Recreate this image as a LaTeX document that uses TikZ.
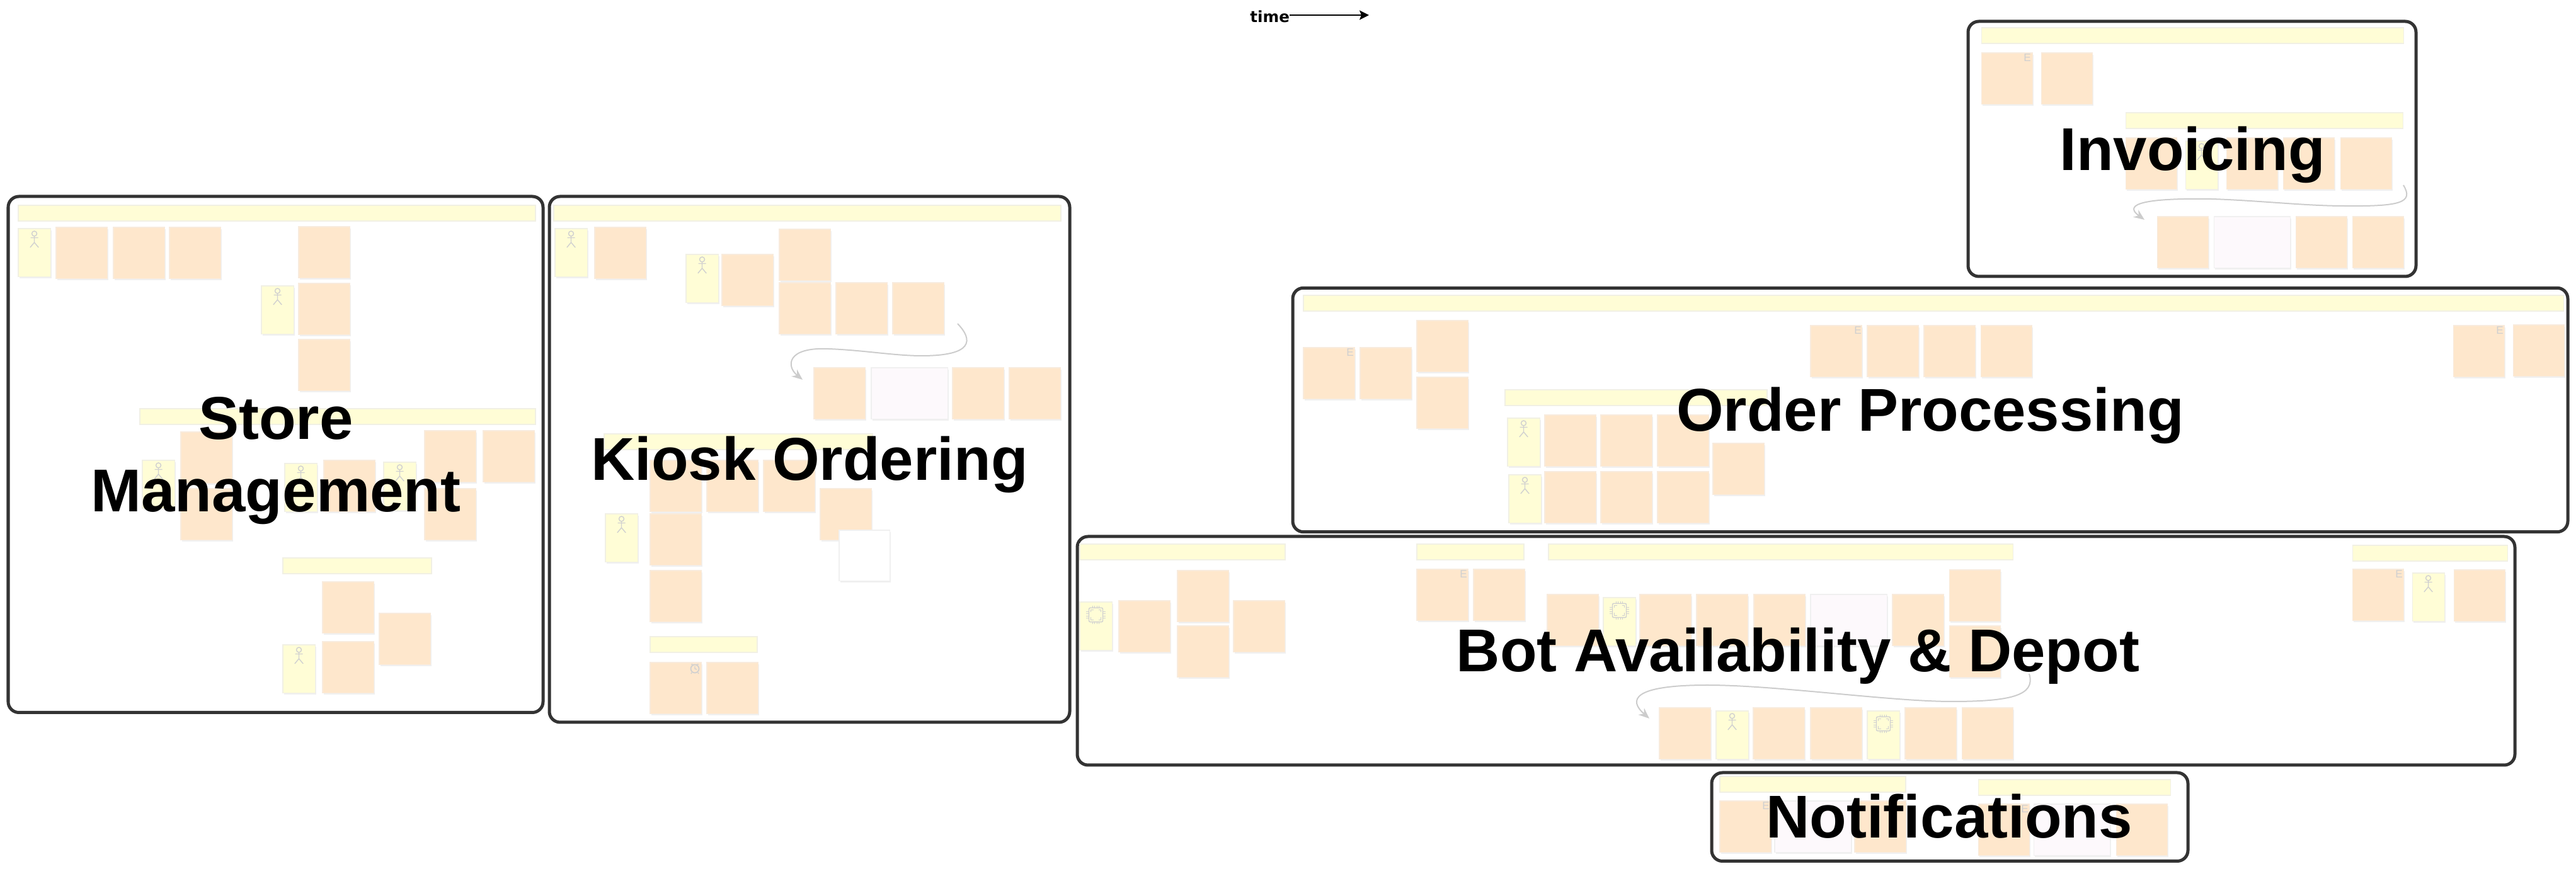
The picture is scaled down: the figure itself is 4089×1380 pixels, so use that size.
\documentclass[tikz,border=0pt]{standalone}
\usepackage{fontspec}
\setmainfont{Liberation Sans}
\newfontfamily\timefont{DejaVu Sans}
\usetikzlibrary{arrows.meta,shadows}
\definecolor{eventfill}{HTML}{FEE7CC}
\definecolor{eventedge}{HTML}{F8EBDD}
\definecolor{notefill}{HTML}{FFFDD6}
\definecolor{policyfill}{HTML}{FDF9FC}
\definecolor{noteedge}{HTML}{F1F0E4}
\definecolor{shadowgrey}{HTML}{F0F0F0}
\definecolor{icongrey}{HTML}{D0D0D0}
\definecolor{framegrey}{HTML}{333333}
\definecolor{flowgrey}{HTML}{CCCCCC}
\tikzset{
  stick/.pic={
    \draw [icongrey, line width=0.4pt] (0,8) circle [radius=4];
    \draw [icongrey, line width=0.4pt] (0,12) -- (0,22) (-6,14.5) -- (6,14.5) (-6.7,30) -- (0,22) -- (6.7,30);
  },
  chip/.pic={
    \draw [icongrey, line width=0.4pt, rounded corners=0.02cm] (-11,9.3) rectangle (11,31.7);
    \draw [icongrey, line width=0.3pt] (-8,16.5) -- (-8,12.5) -- (-4,12.5) (4,12.5) -- (8,12.5) -- (8,16.5) (8,24.5) -- (8,28.5) -- (4,28.5) (-4,28.5) -- (-8,28.5) -- (-8,24.5);
    \foreach \p in {-5,-1.7,1.7,5}
    {
      \draw [icongrey, line width=0.3pt] (\p,6) -- (\p,9.3) (\p,31.7) -- (\p,35);
      \draw [icongrey, line width=0.3pt] (-15.5,20.5+\p) -- (-11,20.5+\p) (11,20.5+\p) -- (15.5,20.5+\p);
    }
  },
  clock/.pic={
    \draw [icongrey, line width=0.5pt] (0,0) circle [radius=6.5];
    \draw [icongrey, line width=0.4pt] (0,-4) -- (0,0) -- (3,1) (-6,-7) -- (-3,-7) (3,-7) -- (6,-7) (-5,6) -- (-6,8) (5,6) -- (6,8);
  }
}
\begin{document}
\begin{tikzpicture}[x=0.01cm,y=-0.01cm]
\tikzstyle{sticky} = [anchor=north west, inner sep=0, outer sep=0, line width=0.3pt, general shadow={fill=shadowgrey, shadow xshift=0.023cm, shadow yshift=-0.03cm}]
\tikzstyle{event} = [sticky, fill=eventfill, draw=eventedge, minimum width=0.81cm, minimum height=0.81cm]
\tikzstyle{policy} = [sticky, fill=policyfill, draw=shadowgrey, minimum width=1.21cm, minimum height=0.81cm]
\tikzstyle{blank} = [sticky, fill=white, draw=shadowgrey, minimum width=0.80cm, minimum height=0.80cm]
\tikzstyle{actor} = [sticky, fill=notefill, draw=noteedge, minimum width=0.51cm, minimum height=0.76cm]
\tikzstyle{header} = [anchor=north west, inner sep=0, outer sep=0, line width=0.3pt, fill=notefill, draw=noteedge, minimum height=0.25cm]
\tikzstyle{frame} = [anchor=north west, inner sep=0, outer sep=0, draw=framegrey, line width=0.05cm, rounded corners=0.17cm]
\tikzstyle{title} = [inner sep=0, outer sep=0, font=\bfseries\fontsize{27.3}{32.7}\selectfont]
\tikzstyle{flow} = [flowgrey, line width=0.02cm, -{Stealth[length=0.17cm,width=0.14cm]}]
\tikzstyle{letter} = [inner sep=0, outer sep=0, text=icongrey, font=\fontsize{4.9}{5}\selectfont]
\useasboundingbox (0,0) rectangle (4089,1380);
    \foreach \n/\x/\y/\w/\h in {store/13/312/849/819.5,kiosk/872/312/826/835,invoicing/3124/34/711/405,order/2052/457.3/2024/387.4,bot/1710/852/2282/363,notify/2717/1227/756/140.5}
    {
    	\node [frame, minimum width=\w*0.01cm, minimum height=\h*0.01cm] (\n) at (\x,\y) {};
    }
    \foreach \x/\y/\w in {29/326/821,222/649/628,449/886/236,879/326/805,959/689/426,1032/1011/170,3145/44/670,3374/179/440,2069/469/2000,2389/619/416,1714/864/326,2249/864/170,2458/864/737,3734/866/246,2730/1233/295,3140/1238/305}
    {
    	\node [header, minimum width=\w*0.01cm] (h\x-\y) at (\x,\y) {};
    }
    \foreach \x/\y in {89/361,180/361,269/361,474/360,474/450,474/539,287/686,287/776,514/731,674/684,674/776,767/684,512/924,512/1019,602/974,
    	944/361,1146/404,1237/364,1237/449,1327/449,1417/449,1292/584,1512/584,1602/584,1032/731,1122/731,1212/731,1302/776,1032/816,1032/906,1032/1052,1122/1052,
    	3145/84,3240/84,3374/219,3534/219,3624/219,3715/219,3424/344,3644/344,3734/344,
    	2069/552,2159/552,2249/509,2249/599,2874/517,2964/517,3054/517,3144/517,3894/517,3989/516,2452/659,2541/659,2631/659,2452/749,2541/749,2631/749,2719/704,
    	1776/954,1869/906,1869/994,1958/954,2249/904,2339/904,2456/944,2603/944,2693/944,2784/944,3004/944,3094/905,3094/994,2634/1124,2783/1124,2874/1124,3024/1124,3114/1124,3734/904,3895/905,
    	2730/1272,2944/1272,3140/1277,3359/1277}
    {
    	\node [event] (ev\x-\y) at (\x,\y) {};
    }
    \foreach \x/\y in {1383/584,3514/344,2874/944,2817/1272,3228/1277}
    {
    	\node [policy] (po\x-\y) at (\x,\y) {};
    }
    \foreach \x/\y in {29/363,415/454,226/731,452/736,609/734,449/1024,881/363,1089/404,961/816,3469/224,2393/664,2395/754,2724/1129,3829/910}
    {
    	\node [actor] (ac\x-\y) at (\x,\y) {};
    	\pic at (ac\x-\y.north) {stick};
    }
    \foreach \x/\y in {1714/956,2545/949,2964/1129}
    {
    	\node [actor] (ch\x-\y) at (\x,\y) {};
    	\pic at (ch\x-\y.north) {chip};
    }
    \node [blank] (v1) at (1332,842) {};
    \foreach \x/\y in {3218/92,2143/560,2949/525,3968/525,2323/912,3808/912,2803/1280,3214/1285}
    {
    	\node [letter] (e\x-\y) at (\x,\y) {E};
    }
    \pic at (1103,1062) {clock};

\coordinate (k1) at (1520,514);
\coordinate (k2) at (1274,603);
\coordinate (i1) at (3815,294);
\coordinate (i2) at (3404,349);
\coordinate (b1) at (3221,1070);
\coordinate (b2) at (2618,1141);
\draw [flow] (k1) .. controls (1545,540) and (1545,565) .. (1463,565) .. controls (1420,565) and (1370,556) .. (1315,554) .. controls (1248,551) and (1248,582) .. (k2);
\draw [flow] (i1) .. controls (3832,322) and (3810,328) .. (3720,327) .. controls (3660,327) and (3580,318) .. (3510,316) .. controls (3385,314) and (3375,328) .. (i2);
\draw [flow] (b1) .. controls (3232,1105) and (3190,1114) .. (3098,1114) .. controls (3000,1114) and (2820,1088) .. (2710,1088) .. controls (2590,1088) and (2585,1112) .. (b2);

\node [title, anchor=base] (t1) at (1285,763) {Kiosk Ordering};
\node [title, anchor=base] (t2) at (3480,271) {Invoicing};
\node [title, anchor=base] (t3) at (3064,685) {Order Processing};
\node [title, anchor=base] (t4) at (2854,1067) {Bot Availability \& Depot};
\node [title, anchor=base] (t5) at (3094,1331) {Notifications};
\node [title, align=center] (t6) at (438,732) {Store\\Management};

\node [inner sep=0, outer sep=0, anchor=base east, font=\timefont\bfseries\fontsize{7}{8}\selectfont] (time) at (2047,35.5) {time};
\coordinate (timeend) at (2173,24);
\draw [black, line width=0.02cm, -{Stealth[length=0.15cm,width=0.15cm,inset=0.03cm]}] (time.east |- timeend) -- (timeend);
\end{tikzpicture}
\end{document}
